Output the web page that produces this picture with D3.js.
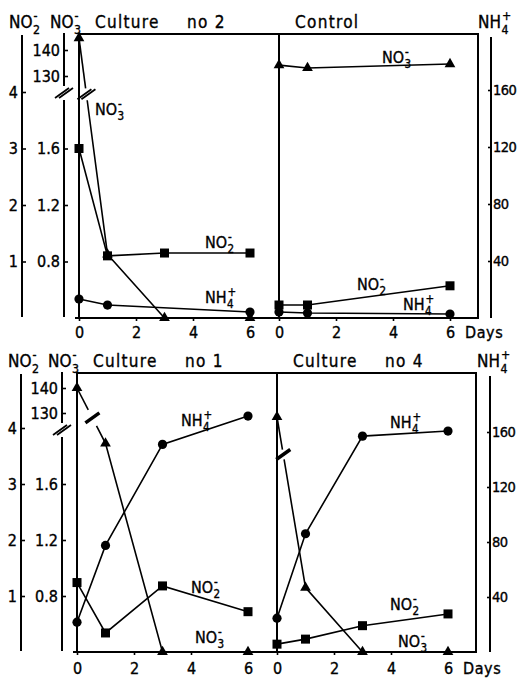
<!DOCTYPE html>
<html>
<head>
<meta charset="utf-8">
<script src="https://cdn.jsdelivr.net/npm/d3@7"></script>
<style>
  body { margin: 0; background: #fff; }
  svg { display: block; font-family: "DejaVu Sans Condensed", "DejaVu Sans", sans-serif; font-stretch: condensed; }
  text { fill: #000; stroke: #000; stroke-width: 0.35px; }
</style>
</head>
<body>
<svg id="chart" width="518" height="678"></svg>
<script>
// tick values
var dayTicks = [0, 2, 4, 6];
var no2Ticks = [1, 2, 3, 4];
var no3LowTicks = [0.8, 1.2, 1.6];
var no3HighTicks = [130, 140];
var nh4Ticks = [40, 80, 120, 160];

// culture no 2
var c2Days = [0, 1, 3, 6];
var c2NO3 = [144.6, 0.85, 0, 0];
var c2NO2 = [3.0, 1.1, 1.15, 1.15];
var c2NH4Days = [0, 1, 6];
var c2NH4 = [13.3, 9.1, 4.2];

// control
var ctlDays = [0, 1, 6];
var ctlNO3 = [134.2, 133.1, 134.6];
var ctlNO2 = [0.23, 0.23, 0.57];
var ctlNH4 = [4.2, 3.5, 2.8];

// culture no 1
var c1Days = [0, 1, 3, 6];
var c1NO3 = [140, 1.89, 0, 0];
var c1NO2 = [1.24, 0.34, 1.18, 0.72];
var c1NH4 = [21.7, 77.5, 151, 171.6];

// culture no 4
var c4Days = [0, 1, 3, 6];
var c4NO3 = [128.4, 0.86, 0, 0];
var c4NO2 = [0.14, 0.23, 0.47, 0.68];
var c4NH4 = [24.6, 86, 157, 160.7];

var ions = {
  NO3: ['NO', '3', '-'],
  NO2: ['NO', '2', '-'],
  NH4: ['NH', '4', '+']
};

var rows = [
  {top: 34, base: 318, no2Top: 92, nh4Top: 90, hi130: 76, hi140: 50, brk: 93, dx: 0, lab: 5.5},
  {top: 373, base: 652, no2Top: 428, nh4Top: 432, hi130: 413, hi140: 388, brk: 430, dx: -2, lab: 7.5}
];

var panels = [
  {row: 0, col: 0, title: ['Culture', 'no 2'],
    no3Days: c2Days, no3: c2NO3, no2Days: c2Days, no2: c2NO2, nh4Days: c2NH4Days, nh4: c2NH4,
    brk: {t: 0.26, gap: 6, kind: 'double'},
    labels: [['NO3', 16, 81], ['NO2', 126, 214], ['NH4', 126, 269]]},
  {row: 0, col: 1, title: ['Control'], days: true,
    no3Days: ctlDays, no3: ctlNO3, no2Days: ctlDays, no2: ctlNO2, nh4Days: ctlDays, nh4: ctlNH4,
    labels: [['NO3', 103, 29], ['NO2', 78, 256], ['NH4', 124, 276]]},
  {row: 1, col: 0, title: ['Culture', 'no 1'],
    no3Days: c1Days, no3: c1NO3, no2Days: c1Days, no2: c1NO2, nh4Days: c1Days, nh4: c1NH4,
    brk: {t: 0.54, gap: 9, kind: 'single'},
    labels: [['NH4', 104, 53], ['NO2', 114, 220], ['NO3', 118, 270]]},
  {row: 1, col: 1, title: ['Culture', 'no 4'], days: true,
    no3Days: c4Days, no3: c4NO3, no2Days: c4Days, no2: c4NO2, nh4Days: c4Days, nh4: c4NH4,
    brk: {t: 0.22, gap: 5, kind: 'single'},
    labels: [['NH4', 113, 55], ['NO2', 113, 237], ['NO3', 121, 274]]}
];

var svg = d3.select('#chart');
var fs = 16;

function clean(sel) {
  sel.attr('font-size', fs).attr('font-family', null);
  sel.selectAll('.tick line').attr('stroke-width', 1.6);
  sel.select('.domain').remove();
}

function vline(g, x, y1, y2, w) {
  g.append('line').attr('x1', x).attr('x2', x).attr('y1', y1).attr('y2', y2)
    .attr('stroke', '#000').attr('stroke-width', w || 2);
}

function slash(g, cx, cy, w) {
  g.append('line').attr('x1', cx - 7).attr('y1', cy + 5).attr('x2', cx + 7).attr('y2', cy - 5)
    .attr('stroke', '#000').attr('stroke-width', w);
}

// ion label: base text, subscript number and stacked charge sign
function ion(g, name, x, y, size) {
  var parts = ions[name];
  var t = g.append('text').attr('x', x).attr('y', y).attr('font-size', size).text(parts[0]);
  var w = t.node().getComputedTextLength();
  g.append('text').attr('x', x + w + 0.5).attr('y', y + size * 0.33)
    .attr('font-size', size * 0.72).text(parts[1]);
  g.append('text').attr('x', x + w + 1).attr('y', y - size * 0.45)
    .attr('font-size', size * 0.72).text(parts[2]);
}

rows.forEach(function(r) {
  r.yNO2 = d3.scaleLinear().domain([0, 4]).range([r.base, r.no2Top]);
  r.yLo = d3.scaleLinear().domain([0.4, 2.0]).range([r.base, r.no2Top]).clamp(true);
  r.yHi = d3.scaleLinear().domain([130, 140]).range([r.hi130, r.hi140]);
  r.yNH4 = d3.scaleLinear().domain([0, 160]).range([r.base, r.nh4Top]);

  var g = svg.append('g');
  var xNO2 = 22 + r.dx / 2, xNO3 = 64 + r.dx, xNH4 = 491 + r.dx / 2;

  // NO2 axis
  g.append('g').attr('transform', 'translate(' + xNO2 + ',0)')
    .call(d3.axisLeft(r.yNO2).tickValues(no2Ticks).tickSizeInner(-4).tickSizeOuter(0)
      .tickPadding(4).tickFormat(d3.format('d')))
    .call(clean);
  vline(g, xNO2, r.top + 1, r.base - 1);

  // NO3 axis, broken in two parts
  g.append('g').attr('transform', 'translate(' + xNO3 + ',0)')
    .call(d3.axisLeft(r.yLo).tickValues(no3LowTicks).tickSizeInner(-4).tickSizeOuter(0)
      .tickPadding(4).tickFormat(d3.format('.1f')))
    .call(clean);
  g.append('g').attr('transform', 'translate(' + xNO3 + ',0)')
    .call(d3.axisLeft(r.yHi).tickValues(no3HighTicks).tickSizeInner(-4).tickSizeOuter(0)
      .tickPadding(4).tickFormat(d3.format('d')))
    .call(clean);
  vline(g, xNO3, r.top - 1, r.brk - 7);
  vline(g, xNO3, r.brk + 7, r.base - 1);
  slash(g, xNO3 - 2, r.brk, 1.8);
  slash(g, xNO3 + 2, r.brk, 1.8);

  // NH4 axis on the right (labels squeezed to stay inside the page)
  g.append('g').attr('transform', 'translate(' + xNH4 + ',0)')
    .call(d3.axisRight(r.yNH4).tickValues(nh4Ticks).tickSizeInner(-3).tickSizeOuter(0)
      .tickPadding(2).tickFormat(d3.format('d')))
    .call(clean)
    .attr('font-size', 14.5)
    .selectAll('text').attr('letter-spacing', -0.6);
  vline(g, xNH4, r.top + 3, r.base);

  // headers
  ion(g, 'NO2', 9 + r.dx / 2, r.top - 6, 17);
  ion(g, 'NO3', 50 + r.dx, r.top - 6, 17);
  ion(g, 'NH4', 478 + r.dx / 2, r.top - 6, 17);

  // frame
  var x0 = 79 + r.dx;
  g.append('rect').attr('x', x0).attr('y', r.top).attr('width', 399).attr('height', r.base - r.top)
    .attr('fill', 'none').attr('stroke', '#000').attr('stroke-width', 2);
  vline(g, x0 + 200, r.top, r.base);
  g.append('line').attr('x1', x0 - 4).attr('x2', x0).attr('y1', r.base).attr('y2', r.base)
    .attr('stroke', '#000').attr('stroke-width', 2);
});

panels.forEach(function(p) {
  var r = rows[p.row];
  var x0 = 79 + r.dx + p.col * 200;
  var x = d3.scaleLinear().domain([0, 6]).range([x0, x0 + 171]);
  var g = svg.append('g');

  g.append('g').attr('transform', 'translate(0,' + r.base + ')')
    .call(d3.axisBottom(x).tickValues(dayTicks).tickSizeInner(3).tickSizeOuter(0)
      .tickPadding(r.lab).tickFormat(d3.format('d')))
    .call(clean);
  if (p.days) {
    g.append('text').attr('x', x(6) + 15).attr('y', r.base + 11 + r.lab + 3)
      .attr('font-size', fs).attr('letter-spacing', 0.6).text('Days');
  }

  // title
  g.append('text').attr('x', x0 + 16).attr('y', r.top - 6).attr('font-size', 17)
    .attr('letter-spacing', 1.3).text(p.title[0]);
  if (p.title[1]) {
    g.append('text').attr('x', x0 + 108).attr('y', r.top - 6).attr('font-size', 17)
      .attr('letter-spacing', 1.3).text(p.title[1]);
  }

  var line = d3.line();
  function path(pts) {
    g.append('path').attr('d', line(pts)).attr('fill', 'none')
      .attr('stroke', '#000').attr('stroke-width', 1.6);
  }

  // NO3: values above 50 use the upper (broken) scale
  var pts3 = p.no3Days.map(function(d, i) {
    var v = p.no3[i];
    return [x(d), v > 50 ? r.yHi(v) : r.yLo(v)];
  });
  var k = p.no3.findIndex(function(v, i) { return i > 0 && p.no3[i - 1] > 50 && v <= 50; });
  if (k < 0 || !p.brk) {
    path(pts3);
  } else {
    var a = pts3[k - 1], b = pts3[k];
    var len = Math.hypot(b[0] - a[0], b[1] - a[1]);
    var at = function(t) { return [a[0] + (b[0] - a[0]) * t, a[1] + (b[1] - a[1]) * t]; };
    var gp = p.brk.gap / len;
    path(pts3.slice(0, k).concat([at(p.brk.t - gp)]));
    path([at(p.brk.t + gp)].concat(pts3.slice(k)));
    var c = at(p.brk.t);
    if (p.brk.kind === 'double') {
      slash(g, c[0] - 2, c[1], 1.8);
      slash(g, c[0] + 2, c[1], 1.8);
    } else {
      slash(g, c[0], c[1], 3.5);
    }
  }

  var pts2 = p.no2Days.map(function(d, i) { return [x(d), r.yNO2(p.no2[i])]; });
  var pts4 = p.nh4Days.map(function(d, i) { return [x(d), r.yNH4(p.nh4[i])]; });
  path(pts2);
  path(pts4);

  g.selectAll(null).data(pts3).enter().append('path')
    .attr('transform', function(d) { return 'translate(' + d[0] + ',' + d[1] + ')'; })
    .attr('d', d3.symbol(d3.symbolTriangle, 50)).attr('fill', '#000');
  g.selectAll(null).data(pts2).enter().append('rect')
    .attr('x', function(d) { return d[0] - 4.5; }).attr('y', function(d) { return d[1] - 4.5; })
    .attr('width', 9).attr('height', 9).attr('fill', '#000');
  g.selectAll(null).data(pts4).enter().append('circle')
    .attr('cx', function(d) { return d[0]; }).attr('cy', function(d) { return d[1]; })
    .attr('r', 4.6).attr('fill', '#000');

  p.labels.forEach(function(l) {
    ion(g, l[0], x0 + l[1], r.top + l[2], 16);
  });
});
</script>
</body>
</html>
